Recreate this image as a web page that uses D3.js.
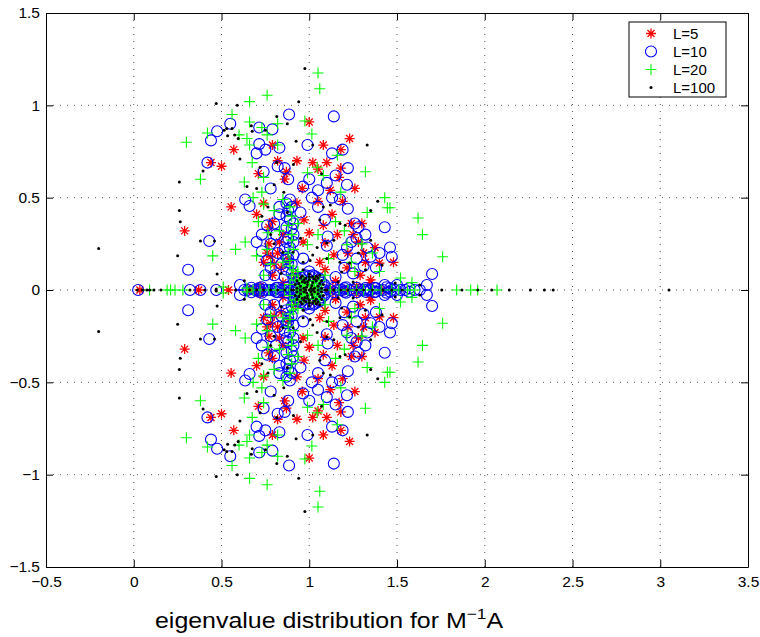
<!DOCTYPE html>
<html lang="en">
<head>
    <meta charset="UTF-8">
    <title>eigenvalue distribution</title>
    <script src="https://cdn.jsdelivr.net/npm/d3@7"></script>
    <style>
        body { margin: 0; background: #fff; }
        text { font-family: "Liberation Sans", Arial, sans-serif; }
        .grid line { stroke: #555; stroke-width: 1; stroke-dasharray: 1,6; }
        .axis path, .axis line { stroke: #000; stroke-width: 1; }
        .axis text { font-size: 15.5px; fill: #000; }
        .mk { stroke-width: 1.1; }
        .star { stroke-width: 1.3; }
    </style>
</head>
<body>
    <script>
        // eigenvalues [re, im]; they come in conjugate pairs, so only im >= 0 is listed
        var l5 = [[0.29,0.32],[0.57,0.76],[0.50,0.67],[0.44,0.69],[1.00,0.91],[1.23,0.82],[1.08,0.785],[1.18,0.76],
            [0.93,0.70],[1.02,0.69],[1.10,0.69],[1.05,0.655],[0.82,0.70],[0.87,0.64],[1.18,0.66],[0.79,0.785],
            [0.555,0.45],[0.70,0.41],[0.54,0],[0.37,0],[0.77,0.25],[0.78,0.18],[0.79,0.08],[1.17,0.61],[0.86,0.60],
            [1.12,0.54],[1.05,0.48],[1.19,0.48],[0.93,0.47],[0.79,0.37],[1.08,0.35],[1.24,0.36],[1.30,0.36],
            [1.00,0.31],[1.16,0.30],[0.85,0.30],[0.965,0.26],[0.82,0.20],[1.06,0.15],[0.88,0.17],[1.215,0.12],
            [1.375,0.23],[1.32,0.15],[1.35,0.04],[0.85,0.04],[1.15,0.05],[1.48,0.15],[0.035,0],[1.40,0.146],
            [1.29,0.08],[1.09,0.11],[1.03,0.065],[1.35,0.055],[1.09,0.255],[0.66,0],[1.42,0],[0.95,0],[1.20,0],
            [0.72,0.02],[1.27,0.02],[1.12,0.01],
            [0.76,0.20],[0.74,0.15],[0.80,0.14],[0.83,0.26],[0.77,0.34],[0.92,0.08],[0.84,0.12],[1.22,0.20],
            [1.28,0.26],[1.14,0.19],[1.31,0.20],[1.25,0.30],[0.97,0.38],[1.13,0.41],[0.74,0.47],[0.96,0.55],
            [1.26,0.55],[0.71,0.63]];

        var l10 = [[0.55,0.90],[0.475,0.86],[0.44,0.81],[0.42,0.69],[0.715,0.88],[0.79,0.87],[0.715,0.79],[0.70,0.74],
            [0.75,0.76],[0.82,0.67],[0.885,0.95],[1.14,0.94],[0.99,0.785],[0.83,0.77],[1.13,0.74],[1.19,0.76],
            [0.86,0.66],[1.15,0.62],[0.635,0.49],[0.66,0.455],[0.43,0.265],[0.70,0.26],[0.31,0.11],[0.83,0.45],
            [0.80,0.36],[0.81,0.30],[0.75,0.08],[0.32,0],[0.38,0],[0.47,0],[0.605,0.027],[0.88,0.60],[1.00,0.60],
            [0.965,0.56],[1.05,0.54],[1.215,0.57],[1.015,0.50],[1.175,0.49],[1.13,0.50],[0.83,0.41],[1.22,0.44],
            [1.43,0.34],[1.28,0.34],[1.46,0.23],[1.105,0.29],[1.10,0.24],[1.27,0.28],[1.215,0.23],[0.82,0.20],
            [1.33,0.23],[1.35,0.18],[0.88,0.17],[0.965,0.17],[1.27,0.17],[1.19,0.19],[1.25,0.09],[1.00,0.10],
            [1.15,0.07],[0.80,0.08],[1.43,0.027],[1.47,0.18],[1.70,0.087],[1.67,0.027],[1.50,0.027],[0.025,0],
            [0.74,0],[0.65,0],
            [0.89,0.49],[0.88,0.43],[0.89,0.38],[0.90,0.33],[0.88,0.28],[0.89,0.23],[0.90,0.14],[0.87,0.11],
            [0.86,0.22],[0.91,0.06],
            [0.87,0.47],[0.90,0.45],[0.87,0.40],[0.91,0.36],[0.87,0.34],[0.91,0.30],[0.87,0.26],[0.91,0.26],
            [0.87,0.18],[0.91,0.19],[0.88,0.15],[0.90,0.09],[0.86,0.07],
            [0.69,0],[0.78,0],[0.835,0],[0.90,0],[1.175,0],[1.23,0],[1.29,0],[1.35,0],[1.40,0],[1.49,0],[1.545,0],
            [1.60,0],[1.63,0],[0.715,0.01],[0.81,0.01],[1.20,0.01],[1.32,0.01],[1.38,0.01],[1.46,0.01],
            [0.63,0],[0.67,0.012],[0.71,0],[0.73,0.015],[0.76,0],[0.80,0],[0.82,0.012],[0.85,0],[0.87,0.015],
            [0.88,0],[0.92,0.012],[1.12,0],[1.14,0.012],[1.16,0],[1.19,0],[1.21,0.015],[1.25,0],[1.27,0.012],
            [1.31,0],[1.33,0],[1.37,0.012],[1.42,0],[1.44,0.015],[1.47,0],[1.52,0],[1.57,0.01],
            [1.08,0],[1.07,0.04],[1.05,0.065],[1.00,0.076],[0.955,0.065],[0.93,0.04],[0.925,0],[1.03,0.075],[0.97,0.075],
            [1.085,0.03],[1.06,0.06],[1.02,0.08],[0.98,0.08],[0.94,0.06],[0.915,0.03],[1.09,0.015],[0.91,0.015],
            [0.76,0.16],[0.73,0.21],[0.78,0.25],[0.76,0.35],[0.73,0.30],[0.84,0.14],[0.78,0.12],[1.38,0.12],
            [1.40,0.20],[1.31,0.13],[1.20,0.12],[1.24,0.26],[1.32,0.30],[1.05,0.45],[1.09,0.38],[0.95,0.42],
            [0.78,0.55],[0.74,0.64],[1.10,0.58],[1.22,0.66],[1.26,0.36]];

        var l20 = [[0.30,0.80],[0.76,1.055],[0.66,1.02],[0.56,0.95],[0.66,0.91],[0.42,0.85],[0.73,0.88],[0.76,0.84],
            [0.82,0.90],[0.60,0.84],[0.645,0.82],[0.66,0.785],[0.82,0.785],[0.675,0.69],[0.38,0.60],[0.74,0.61],
            [1.05,1.175],[1.06,1.09],[0.975,0.915],[1.015,0.845],[1.16,0.73],[1.045,0.665],[1.32,0.64],[0.99,0.635],
            [1.08,0.62],[0.63,0.585],[0.73,0.53],[0.74,0.465],[0.68,0.50],[0.635,0.26],[0.58,0.22],[0.45,0.185],
            [0.70,0.185],[0.765,0.31],[0.645,0.01],[0.74,0.08],[0.21,0],[0.235,0],[0.28,0],[0.51,0.016],[0.85,0.49],
            [1.43,0.50],[1.445,0.445],[1.33,0.42],[0.935,0.36],[1.15,0.37],[0.90,0.30],[0.99,0.245],[1.215,0.245],
            [1.36,0.20],[1.11,0.17],[1.26,0.10],[1.09,0.08],[1.40,0.10],[0.85,0.15],[0.935,0.10],[1.62,0.39],
            [1.645,0.30],[1.76,0.18],[1.46,0.445],[1.52,0.065],[1.585,0.04],[1.84,0],[1.92,0],[1.96,0],[2.07,0],
            [0.09,0],[0.19,0],
            [0.91,0.22],[0.89,0.16],[0.91,0.11],[0.92,0.054],[0.90,0.40],[0.88,0.35],
            [0.89,0.45],[0.90,0.27],[0.88,0.20],[0.89,0.13],[0.90,0.08],[0.89,0.03],
            [0.68,0],[0.72,0],[0.77,0],[0.81,0],[0.86,0],[0.94,0],[1.12,0],[1.17,0],[1.22,0],[1.27,0],[1.31,0],
            [1.36,0],[1.41,0],[1.47,0],[1.51,0],[1.56,0],[1.60,0],
            [1.03,0],[1.02,0.02],[1.00,0.03],[0.98,0.02],[0.97,0],[1.04,0.035],[0.96,0.035],[1.00,0.05],[1.05,0.015],[0.95,0.015],
            [1.06,0.05],[0.94,0.05],[1.0,0.065],[1.07,0],[0.93,0],[1.03,0.05],[0.97,0.05],
            [0.78,0.14],[0.76,0.22],[0.83,0.32],[1.24,0.15],[1.30,0.25],[1.20,0.32],[0.71,0.37],[1.05,0.30],
            [1.18,0.53],[0.80,0.43]];

        var l100 = [[0.47,1.01],[0.59,1.00],[0.515,0.865],[0.53,0.875],[0.56,0.875],[0.67,0.89],[0.675,0.86],
            [0.535,0.835],[0.575,0.84],[0.595,0.82],[0.605,0.71],[0.395,0.645],[0.815,0.94],[0.75,0.865],[0.72,0.665],
            [0.815,0.69],[0.975,1.20],[0.94,1.02],[0.875,0.90],[0.925,0.805],[1.02,0.785],[1.33,0.785],[0.91,0.68],
            [1.07,0.63],[0.26,0.585],[0.26,0.43],[0.265,0.37],[0.25,0.185],[0.38,0.265],[0.46,0.265],[0.475,0.087],
            [0.645,0.56],[0.765,0.45],
            [0.02,0],[0.05,0],[0.075,0],[0.09,0],[0.115,0],[0.155,0],[0.32,0],[0.405,0],
            [0.63,0.05],[0.80,0.57],[0.855,0.53],[1.39,0.48],[1.06,0.38],[1.175,0.36],[1.205,0.35],[1.35,0.27],
            [0.875,0.42],[1.10,0.255],[1.045,0.23],[1.02,0.19],[1.005,0.16],[0.965,0.15],[1.10,0.17],[1.175,0.15],
            [1.23,0.146],[1.415,0.135],[1.185,0.097],[1.165,0.043],[1.25,0.043],[0.965,0.11],[1.06,0.08],
            [0.908,0.205],[0.85,0.205],[1.63,0.027],[1.49,0.038],
            [1.755,0],[1.87,0],[1.96,0],[2.04,0],[2.14,0],[2.26,0],[2.34,0],[2.39,0],[3.05,0],
            [-0.20,0.225],[1.35,0.43],
            [1.0,0],[0.97,0.01],[1.03,0.01],[0.95,0.02],[1.05,0.02],[0.99,0.03],[1.02,0.04],[0.96,0.045],[1.04,0.05],
            [1.0,0.055],[0.93,0.01],[1.07,0.01],[0.98,0.065],[1.02,0.07],[1.0,0.085],[0.94,0.035],[1.06,0.035],
            [0.985,0.015],[1.015,0.025],[0.975,0.04],[1.03,0.06],[0.97,0.055],
            [0.92,0.03],[1.08,0.03],[0.93,0.05],[1.07,0.05],[0.95,0.065],[1.05,0.065],[1.0,0.07],[0.96,0.075],
            [1.04,0.075],[0.99,0.045],[1.01,0.01],[0.95,0],[1.05,0],[0.91,0],[1.09,0],[0.98,0],[1.02,0],
            [0.66,0],[0.70,0],[0.74,0],[0.78,0],[0.82,0],[0.86,0],[0.90,0],[1.10,0],[1.14,0],[1.18,0],[1.22,0],
            [1.27,0],[1.31,0],[1.36,0],[1.42,0],[1.47,0],[1.53,0],[0.58,0],[0.47,0.005],
            [0.80,0.25],[0.78,0.30],[0.84,0.09],[1.14,0.27],[1.28,0.20],[1.32,0.11],[0.73,0.40],[1.12,0.46],
            [0.95,0.28],[1.08,0.45],[0.70,0.55]];

        var xTicks = [-0.5, 0, 0.5, 1, 1.5, 2, 2.5, 3, 3.5];
        var yTicks = [-1.5, -1, -0.5, 0, 0.5, 1, 1.5];
        var legendLabels = ["L=5", "L=10", "L=20", "L=100"];

        // add the conjugate of every complex eigenvalue
        function withConj(list) {
            var out = list.slice();
            list.forEach(function(d) { if (d[1] > 0) out.push([d[0], -d[1]]); });
            return out;
        }
        function fmt(d) { return String(d).replace("-", "\u2212"); }

        var svg = d3.select("body").append("svg")
            .attr("width", 760)
            .attr("height", 637);

        var x = d3.scaleLinear().domain([-0.5, 3.5]).range([46, 748]);
        var y = d3.scaleLinear().domain([-1.5, 1.5]).range([567, 13]);

        // dotted grid
        var grid = svg.append("g").attr("class", "grid");
        grid.selectAll(".gx").data(xTicks.slice(1, -1)).enter().append("line")
            .attr("x1", d => x(d)).attr("x2", d => x(d))
            .attr("y1", y(1.5)).attr("y2", y(-1.5));
        grid.selectAll(".gy").data(yTicks.slice(1, -1)).enter().append("line")
            .attr("x1", x(-0.5)).attr("x2", x(3.5))
            .attr("y1", d => y(d)).attr("y2", d => y(d));

        // markers, plotted in the order L=5, 10, 20, 100
        var starPath = "M-5,0H5M0,-5V5M-3.5,-3.5L3.5,3.5M-3.5,3.5L3.5,-3.5";
        var plusPath = "M-5.5,0H5.5M0,-5.5V5.5";

        function drawMarker(sel, k) {
            if (k == 0) sel.append("path").attr("class", "star").attr("d", starPath).attr("stroke", "#ff0000").attr("fill", "none");
            if (k == 1) sel.append("circle").attr("class", "mk").attr("r", 5.5).attr("stroke", "#0000ff").attr("fill", "none");
            if (k == 2) sel.append("path").attr("class", "mk").attr("d", plusPath).attr("stroke", "#00ff00").attr("fill", "none");
            if (k == 3) sel.append("circle").attr("r", 1.5).attr("fill", "#000");
        }

        [l5, l10, l20, l100].forEach(function(list, k) {
            var g = svg.append("g").attr("class", "series" + k);
            g.selectAll("g").data(withConj(list)).enter().append("g")
                .attr("transform", d => "translate(" + x(d[0]) + "," + y(d[1]) + ")")
                .each(function() { drawMarker(d3.select(this), k); });
        });

        // box with inward ticks on all four sides
        svg.append("g").attr("class", "axis")
            .attr("transform", "translate(0," + y(-1.5) + ")")
            .call(d3.axisBottom(x).tickValues(xTicks).tickFormat(fmt).tickSizeInner(-7).tickSizeOuter(0).tickPadding(9));
        svg.append("g").attr("class", "axis")
            .attr("transform", "translate(0," + y(1.5) + ")")
            .call(d3.axisTop(x).tickValues(xTicks).tickFormat("").tickSizeInner(-7).tickSizeOuter(0));
        svg.append("g").attr("class", "axis")
            .attr("transform", "translate(" + x(-0.5) + ",0)")
            .call(d3.axisLeft(y).tickValues(yTicks).tickFormat(fmt).tickSizeInner(-7).tickSizeOuter(0).tickPadding(6));
        svg.append("g").attr("class", "axis")
            .attr("transform", "translate(" + x(3.5) + ",0)")
            .call(d3.axisRight(y).tickValues(yTicks).tickFormat("").tickSizeInner(-7).tickSizeOuter(0));

        // legend
        var lg = svg.append("g").attr("transform", "translate(629,22)");
        lg.append("rect").attr("width", 97).attr("height", 75)
            .attr("fill", "#fff").attr("stroke", "#000");
        legendLabels.forEach(function(t, k) {
            var row = lg.append("g").attr("transform", "translate(22," + (11.5 + k * 18) + ")");
            drawMarker(row, k);
            row.append("text").attr("x", 22).attr("dy", "0.36em")
                .attr("font-size", "15px").text(t);
        });

        // x label
        var xl = svg.append("text").attr("transform", "translate(155,628) scale(1.16,1)").attr("font-size", "21.5px");
        xl.append("tspan").text("eigenvalue distribution for M");
        xl.append("tspan").attr("dy", -9).attr("font-size", "15px").text("\u22121");
        xl.append("tspan").attr("dy", 9).text("A");
    </script>
</body>
</html>
